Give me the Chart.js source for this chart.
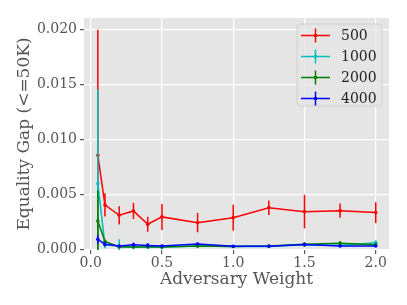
<!DOCTYPE html>
<html>
<head>
<meta charset="utf-8">
<script src="https://cdn.jsdelivr.net/npm/chart.js@4/dist/chart.umd.min.js"></script>
<style>
html,body{margin:0;padding:0;background:#fff;}
#wrap{width:407px;height:305px;position:relative;}
</style>
</head>
<body>
<div id="wrap"><canvas id="c" width="407" height="305"></canvas></div>
<script>
const weights = [0.05, 0.1, 0.2, 0.3, 0.4, 0.5, 0.75, 1.0, 1.25, 1.5, 1.75, 2.0];
const seriesNames = ['500', '1000', '2000', '4000'];
const gap500  = [0.00855, 0.00403, 0.00309, 0.00348, 0.00227, 0.00294, 0.00242, 0.00287, 0.00378, 0.00342, 0.00351, 0.00333];
const err500  = [0.0114, 0.00106, 0.00083, 0.00073, 0.00068, 0.00118, 0.00088, 0.00118, 0.00066, 0.00153, 0.00064, 0.00095];
const gap1000 = [0.00596, 0.0004, 0.0003, 0.0002, 0.00025, 0.0002, 0.0003, 0.00025, 0.00025, 0.0004, 0.00035, 0.0006];
const err1000 = [0.0086, 0.0003, 0.0006, 0.0002, 0.0002, 0.0002, 0.0002, 0.0001, 0.0001, 0.0002, 0.0002, 0.0002];
const gap2000 = [0.00257, 0.0007, 0.0002, 0.0002, 0.0002, 0.0002, 0.0003, 0.00025, 0.0003, 0.00045, 0.00055, 0.0004];
const err2000 = [0.0028, 0.0002, 0.0001, 0.0001, 0.0001, 0.0001, 0.0001, 0.0001, 0.0001, 0.0002, 0.0002, 0.0002];
const gap4000 = [0.0009, 0.00045, 0.0003, 0.0004, 0.00035, 0.0003, 0.00048, 0.00027, 0.00027, 0.00042, 0.0003, 0.0003];
const err4000 = [0.0004, 0.0002, 0.0001, 0.0002, 0.0002, 0.0001, 0.0001, 0.0001, 0.0001, 0.0001, 0.0001, 0.0001];
const xTicks = [0.0, 0.5, 1.0, 1.5, 2.0];
const yTicks = [0.000, 0.005, 0.010, 0.015, 0.020];
const colors = ['#ff0000', '#00bfbf', '#008000', '#0000ff'];
const gaps = [gap500, gap1000, gap2000, gap4000];
const errs = [err500, err1000, err2000, err4000];

const FONT = "'DejaVu Serif', serif";

const datasets = seriesNames.map((n, i) => ({
  label: n,
  data: weights.map((w, j) => ({x: w, y: gaps[i][j]})),
  errors: errs[i],
  borderColor: colors[i],
  backgroundColor: colors[i],
  borderWidth: 1.5,
  pointRadius: 1.8,
  pointHoverRadius: 1.8,
  pointBorderWidth: 0,
  tension: 0,
  order: 4 - i
}));

const errorBars = {
  id: 'errorBars',
  afterDatasetDraw(chart, args) {
    const ds = chart.data.datasets[args.index];
    const meta = args.meta;
    const ys = chart.scales.y;
    const ctx = chart.ctx;
    const a = chart.chartArea;
    ctx.save();
    ctx.beginPath();
    ctx.rect(a.left, a.top, a.right - a.left, a.bottom - a.top);
    ctx.clip();
    ctx.strokeStyle = ds.borderColor;
    ctx.lineWidth = 1.5;
    meta.data.forEach((pt, j) => {
      const v = ds.data[j].y, e = ds.errors[j];
      ctx.beginPath();
      ctx.moveTo(pt.x, ys.getPixelForValue(v - e));
      ctx.lineTo(pt.x, ys.getPixelForValue(v + e));
      ctx.stroke();
    });
    ctx.restore();
  }
};

const bgPlugin = {
  id: 'bg',
  beforeDraw(chart) {
    const a = chart.chartArea, ctx = chart.ctx;
    ctx.save();
    ctx.fillStyle = '#e5e5e5';
    ctx.fillRect(a.left, a.top, a.right - a.left, a.bottom - a.top);
    ctx.restore();
  }
};

const legendPlugin = {
  id: 'customLegend',
  afterDraw(chart) {
    const ctx = chart.ctx;
    const x0 = 297, y0 = 24, w = 85, h = 82, r = 3;
    ctx.save();
    ctx.beginPath();
    ctx.moveTo(x0 + r, y0);
    ctx.arcTo(x0 + w, y0, x0 + w, y0 + h, r);
    ctx.arcTo(x0 + w, y0 + h, x0, y0 + h, r);
    ctx.arcTo(x0, y0 + h, x0, y0, r);
    ctx.arcTo(x0, y0, x0 + w, y0, r);
    ctx.closePath();
    ctx.fillStyle = 'rgba(229,229,229,0.85)';
    ctx.fill();
    ctx.strokeStyle = '#d0d0d0';
    ctx.lineWidth = 1;
    ctx.stroke();
    ctx.font = '14px ' + FONT;
    ctx.textBaseline = 'middle';
    chart.data.datasets.forEach((ds, i) => {
      const yy = 35.5 + i * 21;
      ctx.strokeStyle = ds.borderColor;
      ctx.lineWidth = 1.5;
      ctx.beginPath();
      ctx.moveTo(301, yy); ctx.lineTo(330, yy);
      ctx.moveTo(315.5, yy - 7); ctx.lineTo(315.5, yy + 7);
      ctx.stroke();
      ctx.fillStyle = ds.borderColor;
      ctx.beginPath();
      ctx.arc(315.5, yy, 1.8, 0, Math.PI * 2);
      ctx.fill();
      ctx.fillStyle = '#222';
      ctx.fillText(ds.label, 341, yy + 1);
    });
    ctx.restore();
  }
};

new Chart(document.getElementById('c'), {
  type: 'line',
  data: { datasets },
  plugins: [bgPlugin, errorBars, legendPlugin],
  options: {
    responsive: false,
    animation: false,
    events: [],
    layout: { padding: { top: 18, right: 18, left: 14, bottom: 15 } },
    plugins: { legend: { display: false }, tooltip: { enabled: false } },
    scales: {
      x: {
        type: 'linear',
        min: -0.047,
        max: 2.093,
        afterBuildTicks(s) { s.ticks = xTicks.map(v => ({ value: v })); },
        afterFit(s) { s.height = 40; },
        border: { display: false },
        grid: { color: '#ffffff', lineWidth: 1.2, tickColor: '#555', tickLength: 4, drawTicks: true },
        ticks: {
          color: '#555',
          font: { family: FONT, size: 14 },
          padding: 1,
          maxRotation: 0,
          callback: v => Number(v).toFixed(1)
        },
        title: {
          display: true,
          text: 'Adversary Weight',
          color: '#555',
          font: { family: FONT, size: 17 },
          padding: { top: 0, bottom: 0 }
        }
      },
      y: {
        type: 'linear',
        min: -0.00007,
        max: 0.02103,
        afterBuildTicks(s) { s.ticks = yTicks.map(v => ({ value: v })); },
        afterFit(s) { s.width = 70; },
        border: { display: false },
        grid: { color: '#ffffff', lineWidth: 1.2, tickColor: '#555', tickLength: 4, drawTicks: true },
        ticks: {
          color: '#555',
          font: { family: FONT, size: 14 },
          padding: 3,
          callback: v => Number(v).toFixed(3)
        },
        title: {
          display: true,
          text: 'Equality Gap (<=50K)',
          color: '#555',
          font: { family: FONT, size: 17 },
          padding: { top: 0, bottom: 0 }
        }
      }
    }
  }
});
</script>
</body>
</html>
